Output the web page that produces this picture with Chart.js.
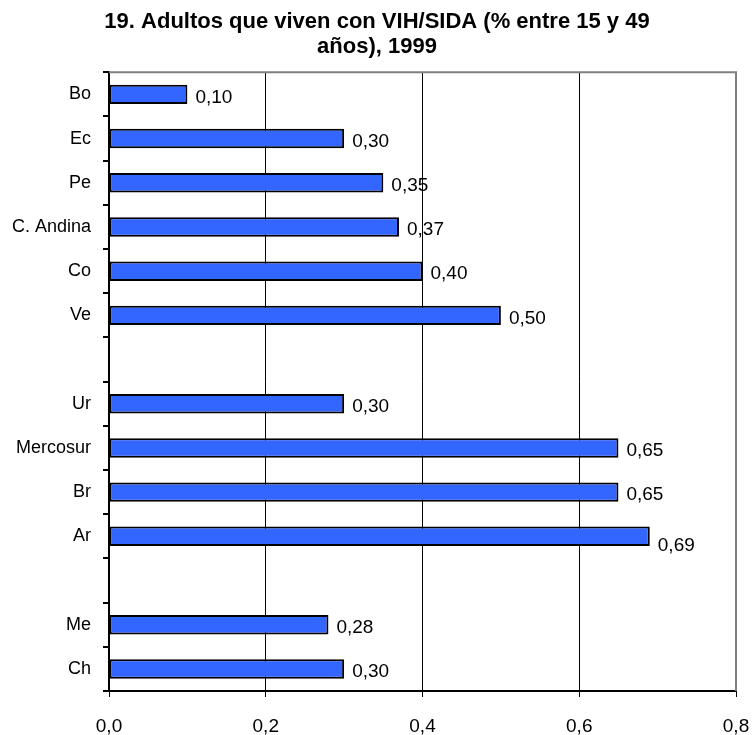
<!DOCTYPE html>
<html>
<head>
<meta charset="utf-8">
<script src="https://cdn.jsdelivr.net/npm/chart.js@4"></script>
<style>
    html, body { margin: 0; padding: 0; background: #fff; }
    #wrap { width: 754px; height: 735px; }
</style>
</head>
<body>
<div id="wrap"><canvas id="chart" width="754" height="735"></canvas></div>
<script>
// Categories (empty strings are the gaps between country groups)
const categories = ['Bo', 'Ec', 'Pe', 'C. Andina', 'Co', 'Ve', '', 'Ur', 'Mercosur', 'Br', 'Ar', '', 'Me', 'Ch'];
const values = [0.10, 0.30, 0.35, 0.37, 0.40, 0.50, null, 0.30, 0.65, 0.65, 0.69, null, 0.28, 0.30];
const xTicks = [0, 0.2, 0.4, 0.6, 0.8];
const titleLines = ['19. Adultos que viven con VIH/SIDA (% entre 15 y 49', 'años), 1999'];

const FONT = '"Liberation Sans", Arial, sans-serif';
const fmt = (v, d) => v.toFixed(d).replace('.', ',');

// Value labels to the right of each bar
const barLabels = {
    id: 'barLabels',
    afterDatasetsDraw(chart) {
        const ctx = chart.ctx;
        const meta = chart.getDatasetMeta(0);
        ctx.save();
        ctx.font = '19px ' + FONT;
        ctx.fillStyle = '#000';
        ctx.textAlign = 'left';
        ctx.textBaseline = 'middle';
        meta.data.forEach((bar, i) => {
            if (values[i] == null) return;
            // Ar label sits a little low in the original
            const dy = values[i] === 0.69 ? 9 : 3;
            ctx.fillText(fmt(values[i], 2), bar.x + 8, bar.y + dy);
        });
        ctx.restore();
    }
};

// Gray frame on top and right of the plot area
const plotFrame = {
    id: 'plotFrame',
    afterLayout(chart) {
        // centre the title on the whole canvas, not just left of the right padding
        if (chart.titleBlock) chart.titleBlock.left = 18;
    },
    beforeDatasetsDraw(chart) {
        const a = chart.chartArea;
        const ctx = chart.ctx;
        ctx.save();
        ctx.strokeStyle = '#808080';
        ctx.lineWidth = 2;
        ctx.beginPath();
        ctx.moveTo(a.left, a.top);
        ctx.lineTo(a.right, a.top);
        ctx.lineTo(a.right, a.bottom);
        ctx.stroke();
        ctx.restore();
    }
};

new Chart(document.getElementById('chart').getContext('2d'), {
    type: 'bar',
    data: {
        labels: categories,
        datasets: [{
            data: values,
            backgroundColor: '#3366FF',
            borderColor: '#000',
            borderWidth: 2,
            borderSkipped: false,
            barPercentage: 0.44,
            categoryPercentage: 1
        }]
    },
    options: {
        indexAxis: 'y',
        responsive: false,
        animation: false,
        layout: { padding: { left: 0, right: 18, top: 0, bottom: 0 } },
        plugins: {
            legend: { display: false },
            tooltip: { enabled: false },
            title: {
                display: true,
                text: titleLines,
                color: '#000',
                font: { family: FONT, size: 22, weight: 'bold', lineHeight: 1.12 },
                padding: { top: 10, bottom: 13 }
            }
        },
        scales: {
            x: {
                min: 0,
                max: 0.8,
                afterBuildTicks: axis => { axis.ticks = xTicks.map(v => ({ value: v })); },
                afterFit: axis => {
                    axis.height = 44;
                    axis.paddingLeft = 0;
                    axis.paddingRight = 0;
                },
                ticks: {
                    color: '#000',
                    padding: 18,
                    font: { family: FONT, size: 19 },
                    callback: v => fmt(v, 1)
                },
                grid: {
                    color: '#000',
                    lineWidth: 1,
                    tickLength: 6,
                    drawOnChartArea: true
                },
                border: { color: '#000', width: 2 }
            },
            y: {
                afterFit: axis => { axis.width = 109; },
                ticks: {
                    color: '#000',
                    padding: 12,
                    font: { family: FONT, size: 18 }
                },
                grid: {
                    offset: true,
                    drawOnChartArea: false,
                    color: '#000',
                    lineWidth: 2,
                    tickLength: 6
                },
                border: { color: '#000', width: 2 }
            }
        }
    },
    plugins: [barLabels, plotFrame]
});
</script>
</body>
</html>
